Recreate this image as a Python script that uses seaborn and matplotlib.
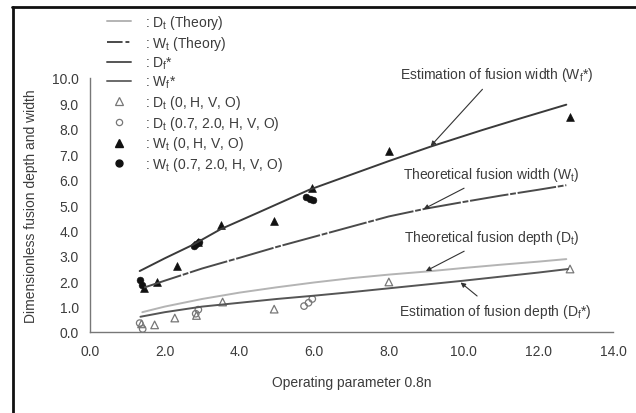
import matplotlib
matplotlib.use("Agg")
import matplotlib.pyplot as plt
from matplotlib.lines import Line2D
import seaborn as sns
import pandas as pd

# Fitted / theoretical curves
wf_est_x = [1.33, 2.0, 2.75, 3.5, 4.5, 5.87, 7.0, 8.0, 9.12, 10.5, 11.5, 12.75]
wf_est_y = [2.40, 2.90, 3.43, 4.05, 4.70, 5.60, 6.20, 6.73, 7.30, 7.95, 8.40, 8.95]

wt_theory_x = [1.45, 2.0, 3.0, 4.0, 5.0, 6.0, 7.0, 8.0, 9.0, 10.0, 11.0, 12.0, 12.75]
wt_theory_y = [1.75, 2.02, 2.50, 2.92, 3.35, 3.75, 4.15, 4.55, 4.86, 5.12, 5.37, 5.60, 5.78]

dt_theory_x = [1.4, 2.0, 3.0, 4.0, 5.0, 6.0, 7.0, 8.0, 9.0, 10.0, 11.0, 12.0, 12.75]
dt_theory_y = [0.78, 1.00, 1.30, 1.55, 1.76, 1.95, 2.12, 2.26, 2.38, 2.52, 2.65, 2.77, 2.87]

df_est_x = [1.35, 2.0, 3.0, 4.0, 5.0, 6.0, 7.0, 8.0, 9.0, 10.0, 11.0, 12.0, 12.8]
df_est_y = [0.60, 0.78, 1.00, 1.15, 1.30, 1.43, 1.57, 1.72, 1.87, 2.02, 2.18, 2.34, 2.48]

# Measurements
dt_a_x = [1.38, 1.73, 2.27, 2.85, 3.55, 4.93, 8.0, 12.85]
dt_a_y = [0.32, 0.28, 0.55, 0.65, 1.18, 0.90, 1.97, 2.48]

dt_b_x = [1.33, 1.41, 2.83, 2.90, 5.73, 5.85, 5.95]
dt_b_y = [0.35, 0.12, 0.72, 0.88, 1.02, 1.15, 1.30]

wt_a_x = [1.45, 1.79, 2.32, 2.90, 3.52, 4.93, 5.95, 8.0, 12.85]
wt_a_y = [1.72, 1.97, 2.60, 3.55, 4.22, 4.37, 5.65, 7.13, 8.46]

wt_b_x = [1.33, 1.38, 2.78, 2.85, 2.92, 5.78, 5.88, 5.98]
wt_b_y = [2.05, 1.85, 3.38, 3.48, 3.55, 5.30, 5.22, 5.20]

x_ticks = [0, 2, 4, 6, 8, 10, 12, 14]
y_ticks = [0, 1, 2, 3, 4, 5, 6, 7, 8, 9, 10]

legend_labels = [
    r": D$_\mathrm{t}$ (Theory)",
    r": W$_\mathrm{t}$ (Theory)",
    r": D$_\mathrm{f}$*",
    r": W$_\mathrm{f}$*",
    r": D$_\mathrm{t}$ (0, H, V, O)",
    r": D$_\mathrm{t}$ (0.7, 2.0, H, V, O)",
    r": W$_\mathrm{t}$ (0, H, V, O)",
    r": W$_\mathrm{t}$ (0.7, 2.0, H, V, O)",
]

sns.set_style("white")
plt.rcParams["font.family"] = ["Liberation Sans", "DejaVu Sans"]
plt.rcParams["mathtext.fontset"] = "custom"
plt.rcParams["mathtext.rm"] = "Liberation Sans"
plt.rcParams["mathtext.it"] = "Liberation Sans:italic"

TXT = "#3c3c3c"
FS = 10
WT_DASH = (20, 0.9, 3, 0.9)

fig = plt.figure(figsize=(6.36, 4.14), dpi=100)
ax = fig.add_axes([90 / 636, 1 - 333 / 414, 523 / 636, 254 / 414])

def curve(x, y, **kw):
    return sns.lineplot(data=pd.DataFrame({"x": x, "y": y}), x="x", y="y",
                        ax=ax, sort=False, estimator=None, **kw)

curve(dt_theory_x, dt_theory_y, color="#b4b4b4", lw=1.4)
curve(wt_theory_x, wt_theory_y, color="#4a4a4a", lw=1.4, dashes=WT_DASH)
curve(df_est_x, df_est_y, color="#555555", lw=1.4)
curve(wf_est_x, wf_est_y, color="#3a3a3a", lw=1.4)

def pts(x, y, **kw):
    sns.scatterplot(data=pd.DataFrame({"x": x, "y": y}), x="x", y="y", ax=ax, **kw)

pts(dt_a_x, dt_a_y, marker="^", s=30, facecolor="none", edgecolor="#777777", linewidth=0.9)
pts(dt_b_x, dt_b_y, marker="o", s=22, facecolor="none", edgecolor="#777777", linewidth=0.9)
pts(wt_a_x, wt_a_y, marker="^", s=32, color="#111111", edgecolor="#111111")
pts(wt_b_x, wt_b_y, marker="o", s=24, color="#111111", edgecolor="#111111")

ax.set_xlim(0, 14)
ax.set_ylim(0, 10)
ax.set_xticks(x_ticks)
ax.set_yticks(y_ticks)
ax.set_xticklabels([f"{v:.1f}" for v in x_ticks])
ax.set_yticklabels([f"{v:.1f}" for v in y_ticks])
ax.tick_params(direction="in", length=3, width=0.8, colors="#777777",
               labelcolor=TXT, labelsize=FS)
ax.tick_params(axis="y", pad=8)
ax.tick_params(axis="x", pad=9)
for side in ("top", "right"):
    ax.spines[side].set_visible(False)
for side in ("left", "bottom"):
    ax.spines[side].set_color("#777777")
    ax.spines[side].set_linewidth(1.0)

ax.set_xlabel("Operating parameter 0.8n", fontsize=FS, color=TXT, labelpad=12)
ax.set_ylabel("Dimensionless fusion depth and width", fontsize=FS, color=TXT, labelpad=10)

arrow = dict(arrowstyle="-|>", color="#333333", lw=0.8, mutation_scale=7, shrinkA=3, shrinkB=0)
notes = [
    (r"Estimation of fusion width (W$_\mathrm{f}$*)", (9.12, 7.32), (10.88, 10.16)),
    (r"Theoretical fusion width (W$_\mathrm{t}$)", (8.93, 4.84), (10.75, 6.22)),
    (r"Theoretical fusion depth (D$_\mathrm{t}$)", (8.99, 2.40), (10.75, 3.74)),
    (r"Estimation of fusion depth (D$_\mathrm{f}$*)", (9.92, 1.95), (10.85, 0.83)),
]
for text, tip, pos in notes:
    ax.annotate(text, xy=tip, xytext=pos, ha="center", va="center", fontsize=FS,
                color=TXT, arrowprops=arrow, annotation_clip=False)

handles = [
    Line2D([], [], color="#b4b4b4", lw=1.4),
    Line2D([], [], color="#4a4a4a", lw=1.4, dashes=(8, 1.5, 2, 1.5)),
    Line2D([], [], color="#555555", lw=1.4),
    Line2D([], [], color="#6a6a6a", lw=1.4),
    Line2D([], [], ls="none", marker="^", ms=5.5, mfc="none", mec="#777777", mew=0.9),
    Line2D([], [], ls="none", marker="o", ms=4.5, mfc="none", mec="#777777", mew=0.9),
    Line2D([], [], ls="none", marker="^", ms=6, color="#111111"),
    Line2D([], [], ls="none", marker="o", ms=5, color="#111111"),
]
fig.legend(handles, legend_labels, loc="upper left",
           bbox_to_anchor=(107 / 636, 1 - 14 / 414), frameon=False,
           fontsize=FS, labelcolor=TXT, handlelength=1.75, handletextpad=1.0,
           labelspacing=0.2, borderpad=0, borderaxespad=0)

# Outer border of the figure panel
fig.add_artist(Line2D([13 / 636, 13 / 636], [0, 1 - 8 / 414], color="#111111", lw=2.0,
                      transform=fig.transFigure))
fig.add_artist(Line2D([12 / 636, 1], [1 - 8 / 414, 1 - 8 / 414], color="#111111", lw=2.0,
                      transform=fig.transFigure))

fig.savefig("out.png", dpi=100)
